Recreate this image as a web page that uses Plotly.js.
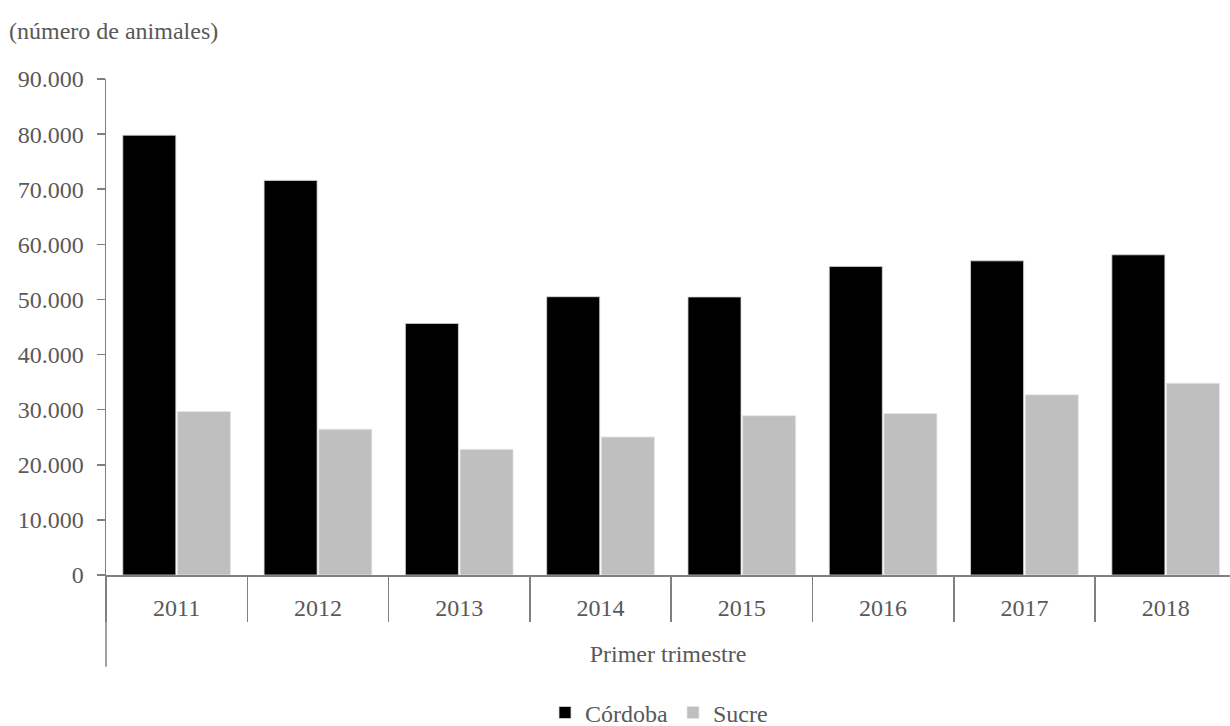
<!DOCTYPE html>
<html>
<head>
<meta charset="utf-8">
<script src="https://cdn.plot.ly/plotly-3.0.1.min.js"></script>
<style>html,body{margin:0;padding:0;background:#fff;}#chart{width:1230px;height:726px;}</style>
</head>
<body>
<div id="chart"></div>
<script>
const years = ["2011","2012","2013","2014","2015","2016","2017","2018"];
const cordoba = [79800, 71600, 45650, 50500, 50450, 56000, 57000, 58100];
const sucre = [29650, 26450, 22800, 25050, 28900, 29300, 32700, 34800];
const seriesNames = ["Córdoba", "Sucre"];
const yTitle = "(número de animales)";
const xTitle = "Primer trimestre";

const FONT = "Liberation Serif, serif";
const TXT = "#595959";
const AX = "#808080";

const traces = [
  {type: "bar", name: seriesNames[0], x: years, y: cordoba,
   marker: {color: "#000000", line: {color: "#d9d9d9", width: 0.8}}},
  {type: "bar", name: seriesNames[1], x: years, y: sucre,
   marker: {color: "#bfbfbf", line: {color: "#e6e6e6", width: 0.8}}}
];

const layout = {
  width: 1230, height: 726,
  paper_bgcolor: "#ffffff", plot_bgcolor: "#ffffff",
  separators: ",.",
  font: {family: FONT, size: 24, color: TXT},
  margin: {l: 106, r: 0, t: 79, b: 151, pad: 0, autoexpand: false},
  barmode: "group", bargap: 0.226, bargroupgap: 0.03,
  showlegend: true,
  legend: {orientation: "h", x: 0.492, xanchor: "center", y: -0.278, yanchor: "middle",
           font: {family: FONT, size: 24, color: TXT}, itemwidth: 30, tracegroupgap: 0,
           bgcolor: "rgba(0,0,0,0)"},
  xaxis: {
    type: "category", range: [-0.5, 7.455], automargin: false,
    showline: true, linecolor: AX, linewidth: 1.5,
    ticks: "outside", tickson: "boundaries", ticklen: 45, tickcolor: AX, tickwidth: 1.5,
    ticklabelstandoff: 11,
    showgrid: false, zeroline: false,
    tickfont: {family: FONT, size: 24, color: TXT},
    title: {text: xTitle, font: {family: FONT, size: 24, color: TXT}, standoff: 25}
  },
  yaxis: {
    range: [0, 90000], dtick: 10000, tick0: 0, tickformat: ",d", automargin: false,
    showline: true, linecolor: AX, linewidth: 1.5,
    ticks: "outside", ticklen: 8, tickcolor: AX, tickwidth: 1.5,
    showgrid: false, zeroline: false,
    tickfont: {family: FONT, size: 24, color: TXT},
    ticklabelstandoff: 8
  },
  shapes: [
    {type: "line", xref: "paper", yref: "paper", x0: 0, x1: 0, y0: 0, y1: -0.185,
     line: {color: AX, width: 1.5}}
  ],
  annotations: [
    {text: yTitle, xref: "paper", yref: "paper", x: -0.0883, y: 1.096, xanchor: "left", yanchor: "middle",
     showarrow: false, font: {family: FONT, size: 24, color: TXT}}
  ]
};

Plotly.newPlot("chart", traces, layout, {displayModeBar: false, staticPlot: true});
</script>
</body>
</html>
